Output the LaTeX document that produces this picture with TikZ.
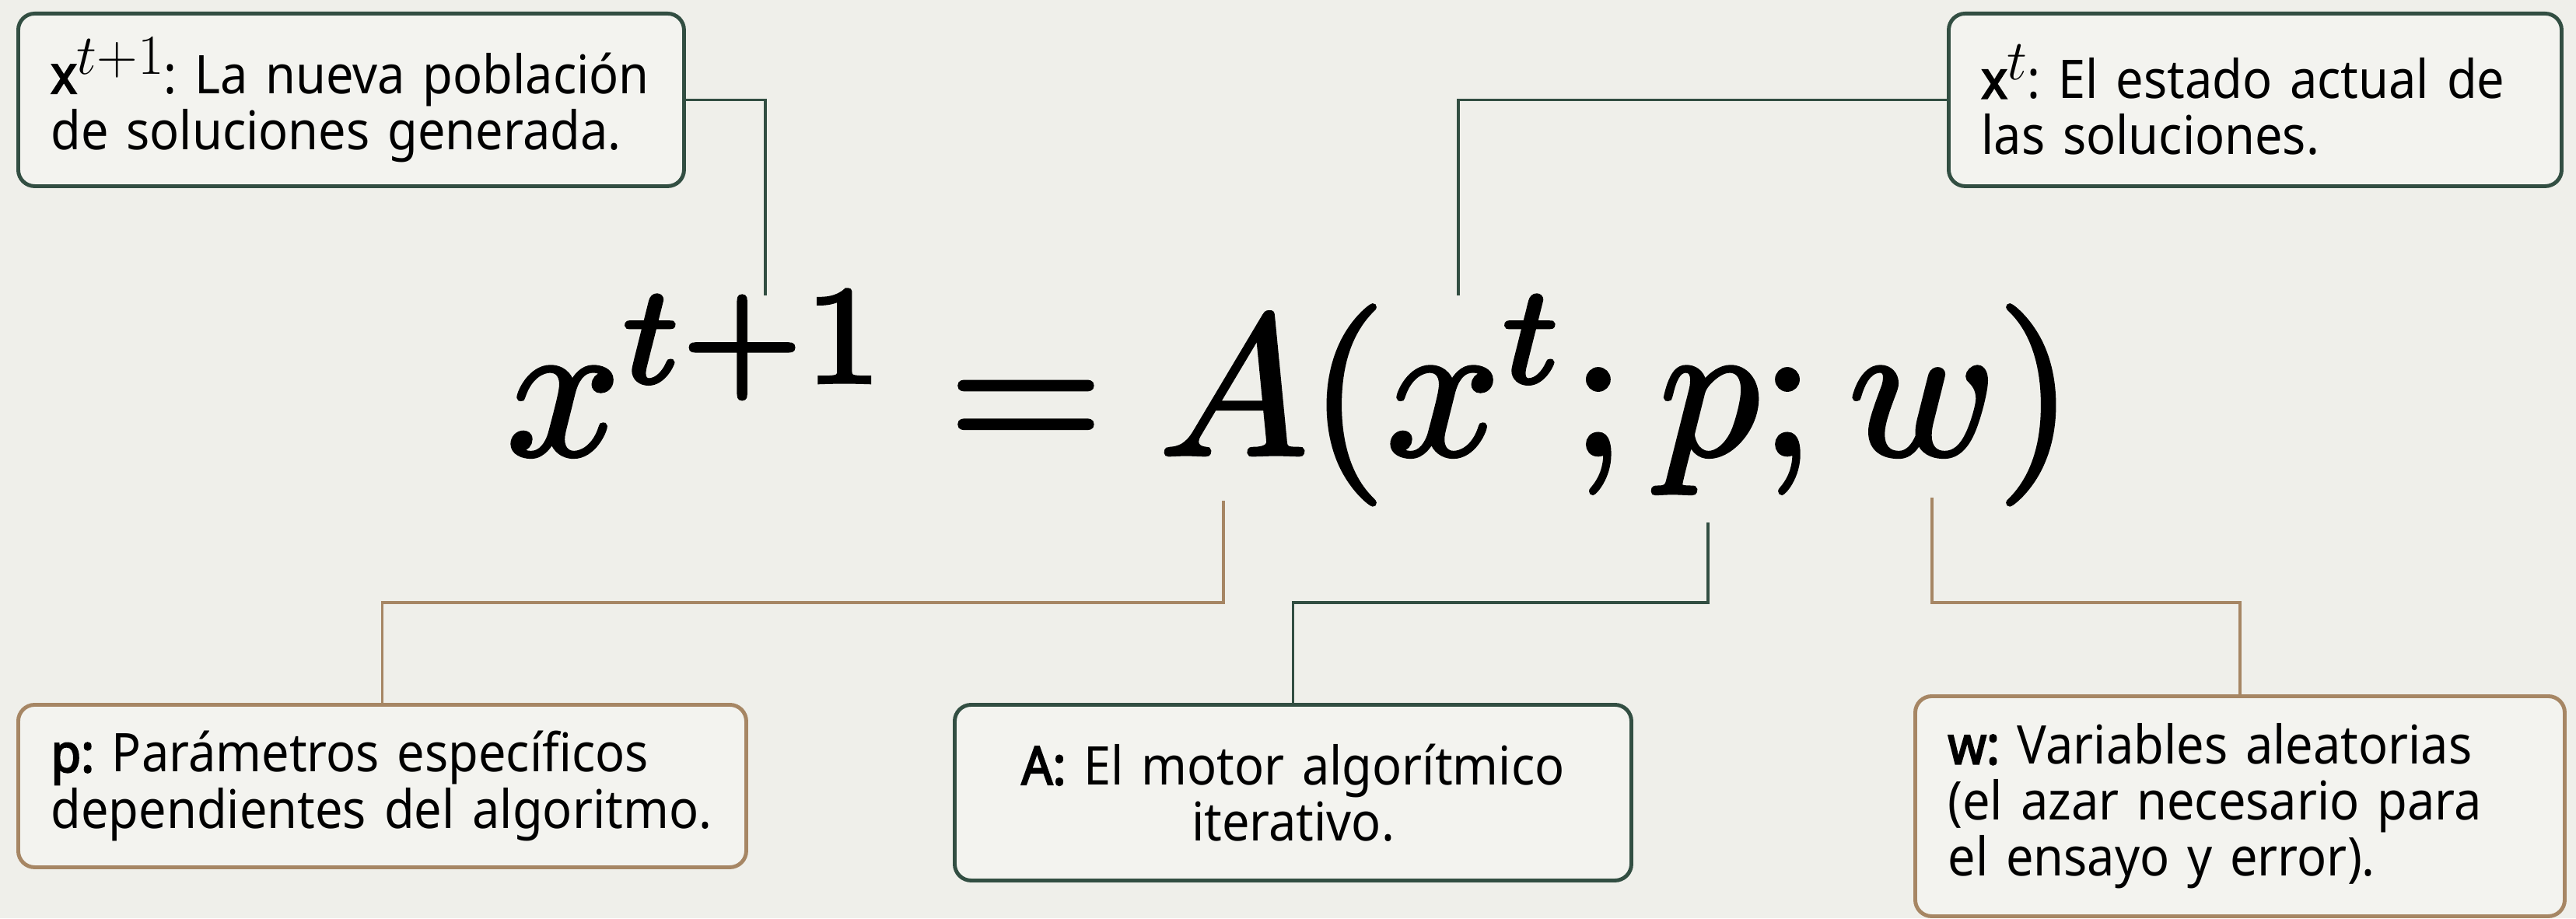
\documentclass[tikz,border=0pt]{standalone}
\usepackage[no-math]{fontspec}
\setmainfont{Noto Sans}[FakeStretch=0.92, BoldFont={Noto Sans}, BoldFeatures={FakeBold=3}]
\usetikzlibrary{positioning,calc}
\definecolor{paper}{RGB}{239,239,234}
\definecolor{notefill}{RGB}{243,243,239}
\definecolor{slategreen}{RGB}{50,78,66}
\definecolor{tanline}{RGB}{166,134,100}
\newcommand\notefont{\fontsize{19.5}{20.5}\selectfont\frenchspacing}
% raised superscript as the boxes print it
\newcommand\notesup[1]{\raisebox{7pt}{\fontsize{20}{20}\selectfont$#1$}}
% slightly heavier glyphs for the big equation
\newcommand\heavyeq[1]{\special{pdf:literal direct 0.18 w 2 Tr}#1\special{pdf:literal direct 0 Tr}}
\tikzset{
  note/.style={draw=slategreen, fill=notefill, line width=1.4pt, rounded corners=6pt,
               inner xsep=4.2mm, inner ysep=0pt, anchor=north west, align=left,
               font=\notefont},
  tannote/.style={note, draw=tanline},
  lnk/.style={line width=1pt, slategreen},
  tanlnk/.style={lnk, draw=tanline}
}
\begin{document}
\begin{tikzpicture}
  \fill[paper] (0,0) rectangle (33.12,-11.81);
  \useasboundingbox (0,0) rectangle (33.12,-11.81);
  % the equation
  \node[anchor=base, inner sep=0pt, scale=7.3] (eq) at (16.59,-5.85)
    {\heavyeq{$x^{t+1} = A(x^t; p; w)$}};
  % boxes on top
  \node[note, text width=7.72cm, minimum width=8.56cm, minimum height=2.22cm] (bxnew) at (0.21,-0.15)
    {\textbf{x}\notesup{t{+}1}: La nueva población\\de soluciones generada.};
  \node[note, text width=7.04cm, minimum width=7.88cm, minimum height=2.22cm] (bxcur) at (25.03,-0.15)
    {\textbf{x}\notesup{t}: El estado actual de\\las soluciones.};
  % boxes below
  \node[tannote, text width=8.52cm, minimum width=9.36cm, minimum height=2.09cm] (bp) at (0.21,-9.04)
    {\textbf{p:} Parámetros específicos\\dependientes del algoritmo.};
  \node[note, align=center, text width=7.86cm, minimum width=8.70cm, minimum height=2.26cm] (bA) at (12.25,-9.04)
    {\textbf{A:} El motor algorítmico\\iterativo.};
  \node[tannote, text width=7.51cm, minimum width=8.35cm, minimum height=2.83cm] (bw) at (24.60,-8.93)
    {\textbf{w:} Variables aleatorias\\(el azar necesario para\\el ensayo y error).};
  % ends of the leader lines
  \coordinate (cxnew) at (9.84,-3.80);
  \coordinate (cxcur) at (18.75,-3.80);
  \coordinate (cA) at (15.73,-6.44);
  \coordinate (cp) at (21.96,-6.72);
  \coordinate (cw) at (24.84,-6.40);
  \coordinate (elb) at (0,-7.75);
  \draw[lnk] (bxnew.east) -| (cxnew);
  \draw[lnk] (bxcur.west) -| (cxcur);
  \draw[tanlnk] (cA) -- (cA |- elb) -| (bp.north);
  \draw[lnk] (cp) -- (cp |- elb) -| (bA.north);
  \draw[tanlnk] (cw) -- (cw |- elb) -| (bw.north);
\end{tikzpicture}
\end{document}
